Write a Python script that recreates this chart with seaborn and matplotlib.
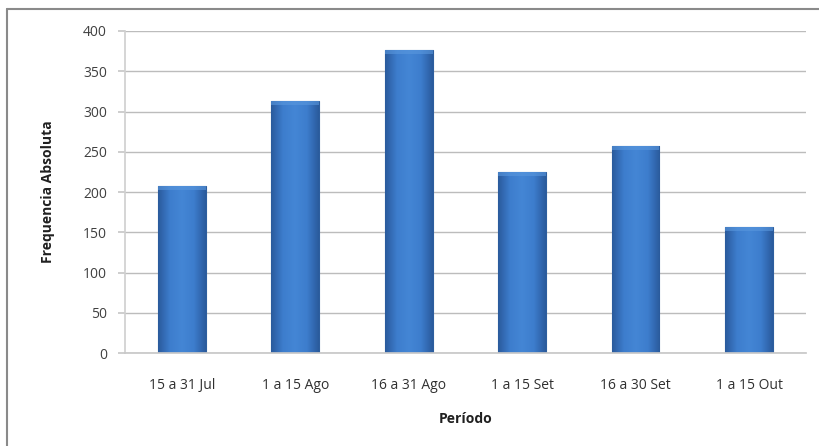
import matplotlib
matplotlib.use("Agg")
import matplotlib.pyplot as plt
from matplotlib.patches import Rectangle
from matplotlib.colors import LinearSegmentedColormap
import numpy as np
import pandas as pd
import seaborn as sns

periodos = ["15 a 31 Jul", "1 a 15 Ago", "16 a 31 Ago", "1 a 15 Set", "16 a 30 Set", "1 a 15 Out"]
frequencias = [208, 313, 377, 225, 257, 156]
y_ticks = [0, 50, 100, 150, 200, 250, 300, 350, 400]

sns.set_theme(style="white")
plt.rcParams["font.family"] = ["Open Sans", "DejaVu Sans"]

df = pd.DataFrame({"Periodo": periodos, "Frequencia": frequencias})

fig = plt.figure(figsize=(8.19, 4.46), dpi=100)
ax = fig.add_axes([0.1526, 0.2085, 0.8314, 0.722])

sns.barplot(data=df, x="Periodo", y="Frequencia", color="#3b78c6",
            width=0.42, edgecolor="#2d5e9e", linewidth=0.8, ax=ax, saturation=1)

# horizontal shading across each bar for a rounded look
shade = LinearSegmentedColormap.from_list(
    "shade", ["#2a5a9c", "#3d7dcd", "#4486d5", "#3d7dcd", "#2a5a9c"])
grad = np.linspace(0, 1, 256).reshape(1, -1)
for patch in ax.patches:
    x0, y0 = patch.get_x(), patch.get_y()
    w, h = patch.get_width(), patch.get_height()
    im = ax.imshow(grad, cmap=shade, aspect="auto",
                   extent=[x0, x0 + w, y0, y0 + h], zorder=patch.get_zorder() + 0.1)
    im.set_clip_path(patch)
    # soft lighter bevel along the top
    cap = ax.add_patch(Rectangle((x0, y0 + h - 5), w, 5, facecolor="#5a98de",
                                 edgecolor="none", alpha=0.6,
                                 zorder=patch.get_zorder() + 0.2))
    cap.set_clip_path(patch)

ax.set_xlim(-0.5, len(periodos) - 0.5)
ax.set_ylim(0, 400)
ax.set_yticks(y_ticks)
ax.set_yticklabels([str(t) for t in y_ticks])
ax.yaxis.grid(True, color="#bcbcbc", linewidth=1)
ax.set_axisbelow(True)

for side in ["top", "right"]:
    ax.spines[side].set_visible(False)
ax.spines["left"].set_color("#d0d0d0")
ax.spines["bottom"].set_color("#c8c8c8")
ax.tick_params(axis="y", which="both", left=True, length=5, color="#c8c8c8",
               labelsize=10, labelcolor="#404040", pad=8)
ax.tick_params(axis="x", bottom=False, labelsize=10, labelcolor="#303030", pad=12)

ax.set_xlabel("Período", fontsize=10, fontweight="bold", color="#202020", labelpad=14)
ax.set_ylabel("Frequencia Absoluta", fontsize=10, fontweight="bold", color="#202020", labelpad=20)

# outer chart frame
fig.add_artist(plt.Line2D([7 / 819, 1.0], [1 - 9 / 446, 1 - 9 / 446],
                          transform=fig.transFigure, color="#8a8a8a", linewidth=1.5))
fig.add_artist(plt.Line2D([7 / 819, 7 / 819], [0, 1 - 9 / 446],
                          transform=fig.transFigure, color="#8a8a8a", linewidth=1.5))

fig.savefig("out.png", dpi=100)
